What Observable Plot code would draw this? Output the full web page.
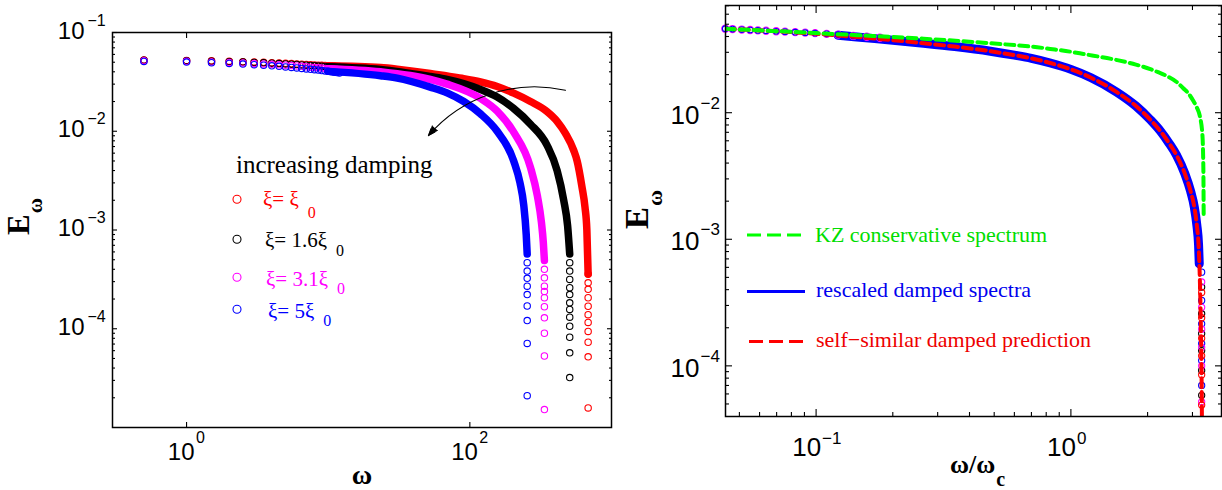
<!DOCTYPE html>
<html>
<head>
<meta charset="utf-8">
<script src="https://cdn.jsdelivr.net/npm/d3@7"></script>
<script src="https://cdn.jsdelivr.net/npm/@observablehq/plot@0.6"></script>
<style>
html,body{margin:0;padding:0;background:#fff;}
body{width:1222px;height:490px;position:relative;overflow:hidden;}
#left,#right{position:absolute;top:0;}
#left{left:0;} #right{left:620px;}
svg{overflow:visible;}
</style>
</head>
<body>
<div id="left"></div><div id="right"></div>
<script>
// ================= LEFT PANEL DATA (E_omega vs omega) =================
const seriesNames  = ["ξ0", "1.6ξ0", "3.1ξ0", "5ξ0"];
const seriesColors = ["#ff0000", "#000000", "#ff00ff", "#0000ff"];

// isolated circles at small omega (step 0.5)
const lowOmega = [0.5,1,1.5,2,2.5,3,3.5,4,4.5,5,5.5,6,6.5,7,7.5,8,8.5,9,9.5,10,10.5,11,11.5,12];
const lowE_red     = [0.0527,0.0522,0.0517,0.0512,0.0507,0.0503,0.0499,0.0495,0.0491,0.0487,0.0484,0.0481,0.0478,0.0475,0.0472,0.0470,0.0467,0.0465,0.0463,0.0461,0.0459,0.0457,0.0455,0.0453];
const lowE_black   = [0.0524,0.0518,0.0512,0.0507,0.0502,0.0497,0.0493,0.0489,0.0485,0.0481,0.0477,0.0474,0.0470,0.0467,0.0464,0.0461,0.0458,0.0455,0.0453,0.0450,0.0448,0.0445,0.0443,0.0441];
const lowE_magenta = [0.0518,0.0511,0.0504,0.0498,0.0492,0.0486,0.0481,0.0476,0.0471,0.0466,0.0462,0.0458,0.0454,0.0450,0.0446,0.0442,0.0439,0.0436,0.0433,0.0430,0.0427,0.0424,0.0421,0.0418];
const lowE_blue    = [0.0510,0.0502,0.0494,0.0486,0.0479,0.0472,0.0466,0.0460,0.0454,0.0448,0.0443,0.0438,0.0433,0.0428,0.0424,0.0420,0.0416,0.0412,0.0408,0.0404,0.0400,0.0396,0.0393,0.0390];

// dense part of each spectrum (circles merge into a band)
const bandOmega_red = [10,23.4,30.7,52.5,69,90.6,119,156,204,268,351,413,473,541,572,617,650,670,684];
const bandE_red     = [0.0461,0.0441,0.0425,0.0385,0.0362,0.0341,0.0316,0.0284,0.0243,0.0200,0.0158,0.0126,0.0095,0.0064,0.0050,0.0028,0.0017,0.0010,0.00036];
const bandOmega_black = [10,23.4,52.5,69,119,156,204,268,351,413,460,490,507];
const bandE_black     = [0.0450,0.0422,0.0358,0.0335,0.0265,0.0222,0.0170,0.0118,0.0072,0.0040,0.0020,0.0011,0.00057];
const bandOmega_magenta = [10,23.4,52.5,69,119,156,204,268,300,320,330,336];
const bandE_magenta     = [0.0430,0.0400,0.0335,0.0300,0.0215,0.0160,0.0098,0.0043,0.0022,0.0012,0.00075,0.00049];
const bandOmega_blue = [10,23.4,30.7,52.5,69,90.6,119,156,204,226,240,250,254];
const bandE_blue     = [0.0404,0.0365,0.0345,0.0280,0.0245,0.0200,0.0150,0.0100,0.0050,0.0030,0.0018,0.0009,0.00057];

// cut-off columns of circles
const tailOmega = [684, 507, 336, 254];
const tailE_red     = [3.56e-4,2.92e-4,2.51e-4,2.06e-4,1.69e-4,1.39e-4,1.16e-4,9.4e-5,7.3e-5,5.2e-5,1.58e-5];
const tailE_black   = [4.67e-4,3.84e-4,3.16e-4,2.6e-4,2.22e-4,1.83e-4,1.57e-4,1.31e-4,1.06e-4,8.2e-5,5.7e-5,3.2e-5];
const tailE_magenta = [4.0e-4,3.28e-4,2.7e-4,2.38e-4,2.06e-4,1.67e-4,1.29e-4,9.0e-5,5.3e-5,1.52e-5];
const tailE_blue    = [4.67e-4,3.84e-4,3.24e-4,2.7e-4,2.22e-4,1.70e-4,1.21e-4,7.1e-5,2.1e-5];

// "increasing damping" arrow (data units)
const arrowFrom = [473, 0.026];
const arrowTo   = [51, 0.00904];

// left axes
const leftXDomain = [0.3, 1000];
const leftYDomain = [1e-5, 0.1];
const leftXTicks = [1, 100];
const leftXTickExp = ["0", "2"];
const leftYTicks = [0.1, 0.01, 0.001, 0.0001];
const leftYTickExp = ["−1", "−2", "−3", "−4"];
const leftYMinor = [2e-5,3e-5,4e-5,5e-5,6e-5,7e-5,8e-5,9e-5,2e-4,3e-4,4e-4,5e-4,6e-4,7e-4,8e-4,9e-4,2e-3,3e-3,4e-3,5e-3,6e-3,7e-3,8e-3,9e-3,2e-2,3e-2,4e-2,5e-2,6e-2,7e-2,8e-2,9e-2];

// ================= RIGHT PANEL DATA (E_omega vs omega/omega_c) =================
const kzX = [0.0442,0.1,0.1445,0.264,0.483,0.6,0.7,0.83,1.0,1.12,1.51,1.8,2.05,2.2,2.38,2.6,2.76,2.9,3.03,3.12,3.21,3.28,3.31,3.32];
const kzE = [0.0460,0.0426,0.0410,0.0384,0.0354,0.0342,0.0333,0.0319,0.0303,0.0291,0.0261,0.0240,0.0221,0.0209,0.0195,0.0175,0.0156,0.0141,0.0123,0.0110,0.0093,0.0068,0.0037,0.0015];

const selfX = [0.0442,0.06,0.08,0.1,0.1445,0.2,0.264,0.35,0.483,0.6,0.7,0.83,1.0,1.2,1.51,1.8,2.05,2.24,2.42,2.6,2.8,2.95,3.05,3.12,3.17,3.21,3.24,3.26,3.275];
const selfE = [0.0461,0.0447,0.0433,0.0420,0.0396,0.0374,0.0354,0.0333,0.0306,0.0285,0.0269,0.0247,0.0220,0.0189,0.0146,0.0113,0.0088,0.0072,0.0058,0.0046,0.0033,0.0024,0.0018,0.0013,0.0009,0.00045,0.00018,0.00007,0.00002];

const rescaledX = [0.122,0.1445,0.2,0.264,0.35,0.483,0.6,0.7,0.83,1.0,1.2,1.51,1.8,2.05,2.24,2.42,2.6,2.8,2.95,3.05,3.12,3.17,3.19];
const rescaledE = [0.0409,0.0396,0.0374,0.0354,0.0333,0.0306,0.0285,0.0269,0.0247,0.0220,0.0189,0.0146,0.0113,0.0088,0.0072,0.0058,0.0046,0.0033,0.0024,0.0018,0.0013,0.0009,0.00064];

const rescaledLowX = [0.0440,0.0470,0.0511,0.0551,0.0591,0.0636,0.0697,0.0755,0.0828,0.0906,0.0991,0.110,0.122,0.140,0.158,0.178];
const rescaledLowE = [0.0461,0.0458,0.0454,0.0450,0.0447,0.0444,0.0440,0.0437,0.0433,0.0429,0.0425,0.0420,0.0414,0.0404,0.0398,0.0391];

const rescaledTailX = 3.26;
const rTailE_blue    = [5.5e-4,3.29e-4,2.15e-4,1.5e-4,1.1e-4,7.0e-5];
const rTailE_black   = [4.19e-4,2.58e-4,1.8e-4,1.32e-4,9.2e-5,5.85e-5];
const rTailE_magenta = [4.6e-4,2.9e-4,1.95e-4,1.4e-4,1.0e-4,5.2e-5];
const rTailE_red     = [3.8e-4,2.4e-4,1.65e-4,1.2e-4,8.5e-5,4.9e-5];

const rightXDomain = [0.0441, 3.9];
const rightYDomain = [3.98e-5, 0.0703];
const rightXTicks = [0.1, 1];
const rightXTickExp = ["−1", "0"];
const rightXMinor = [0.05,0.06,0.07,0.08,0.09,0.2,0.3,0.4,0.5,0.6,0.7,0.8,0.9,2,3];
const rightYTicks = [0.01, 0.001, 0.0001];
const rightYTickExp = ["−2", "−3", "−4"];
const rightYMinor = [5e-5,6e-5,7e-5,8e-5,9e-5,2e-4,3e-4,4e-4,5e-4,6e-4,7e-4,8e-4,9e-4,2e-3,3e-3,4e-3,5e-3,6e-3,7e-3,8e-3,9e-3,2e-2,3e-2,4e-2,5e-2,6e-2,7e-2];

const legendRight = ["KZ conservative spectrum", "rescaled damped spectra", "self−similar damped prediction"];

// ================= helpers =================
const SANS = "'Liberation Sans', Arial, Helvetica, sans-serif";
const SERIF = "'Liberation Serif', 'Times New Roman', Times, serif";
const pts = (xs, ys) => xs.map((x, i) => ({x, y: ys[i]}));
const col = (x, ys) => ys.map(y => ({x, y}));

function tickMarks(xMaj, xMin, yMaj, yMin, maj, mnr) {
  const m = [];
  const ax = (d, s, anchor) => Plot.axisX(d, {anchor, tickSize: s, dy: anchor === "bottom" ? -s : s, fill: "none", label: null, strokeWidth: 1.1});
  const ay = (d, s, anchor) => Plot.axisY(d, {anchor, tickSize: s, dx: anchor === "left" ? s : -s, fill: "none", label: null, strokeWidth: 1.1});
  for (const a of ["bottom", "top"]) { m.push(ax(xMaj, maj, a)); if (xMin.length) m.push(ax(xMin, mnr, a)); }
  for (const a of ["left", "right"]) { m.push(ay(yMaj, maj, a)); if (yMin.length) m.push(ay(yMin, mnr, a)); }
  return m;
}
function xLabels(vals, exps, o) {
  const d = vals.map((v, i) => ({v, e: exps[i]}));
  return [
    Plot.text(d, {x: "v", frameAnchor: "bottom", text: () => "10", textAnchor: "end", lineAnchor: "bottom", dx: o.bdx, dy: o.bdy, fontSize: o.bs, fontFamily: SANS}),
    Plot.text(d, {x: "v", frameAnchor: "bottom", text: "e", textAnchor: "start", lineAnchor: "bottom", dx: o.edx, dy: o.edy, fontSize: o.es, fontFamily: SANS})
  ];
}
function yLabels(vals, exps, o) {
  const d = vals.map((v, i) => ({v, e: exps[i]}));
  return [
    Plot.text(d, {y: "v", frameAnchor: "left", text: () => "10", textAnchor: "end", lineAnchor: "bottom", dx: o.bdx, dy: o.bdy, fontSize: o.bs, fontFamily: SANS}),
    Plot.text(d, {y: "v", frameAnchor: "left", text: "e", textAnchor: "start", lineAnchor: "bottom", dx: o.edx, dy: o.edy, fontSize: o.es, fontFamily: SANS})
  ];
}
function addText(svg, x, y, o, runs) {
  const t = d3.select(svg).append("text")
    .attr("transform", `translate(${x},${y})` + (o.rotate ? ` rotate(${o.rotate})` : ""))
    .attr("font-family", o.family || SERIF).attr("font-size", o.size)
    .attr("font-weight", o.weight || "normal").attr("fill", o.color || "#000")
    .attr("text-anchor", o.anchor || "start");
  for (const r of runs) {
    const s = t.append("tspan").text(r.t);
    if (r.dx != null) s.attr("dx", r.dx);
    if (r.dy != null) s.attr("dy", r.dy);
    if (r.size) s.attr("font-size", r.size);
    if (r.weight) s.attr("font-weight", r.weight);
  }
}

// ================= LEFT PLOT =================
const leftSeries = [
  {c: seriesColors[0], lowE: lowE_red, bx: bandOmega_red, by: bandE_red, tx: tailOmega[0], ty: tailE_red},
  {c: seriesColors[1], lowE: lowE_black, bx: bandOmega_black, by: bandE_black, tx: tailOmega[1], ty: tailE_black},
  {c: seriesColors[2], lowE: lowE_magenta, bx: bandOmega_magenta, by: bandE_magenta, tx: tailOmega[2], ty: tailE_magenta},
  {c: seriesColors[3], lowE: lowE_blue, bx: bandOmega_blue, by: bandE_blue, tx: tailOmega[3], ty: tailE_blue}
];
const leftData = [];
for (const s of leftSeries) {
  leftData.push(Plot.line(pts(s.bx, s.by), {x: "x", y: "y", stroke: s.c, strokeWidth: 7.5, strokeLinecap: "round", curve: "monotone-x"}));
  leftData.push(Plot.dot(pts(lowOmega, s.lowE), {x: "x", y: "y", r: 3.2, stroke: s.c, strokeWidth: 1.1}));
  leftData.push(Plot.dot(col(s.tx, s.ty), {x: "x", y: "y", r: 3.2, stroke: s.c, strokeWidth: 1.1}));
}

const left = Plot.plot({
  width: 620, height: 490,
  marginLeft: 112, marginRight: 9, marginTop: 32, marginBottom: 63,
  x: {type: "log", domain: leftXDomain},
  y: {type: "log", domain: leftYDomain},
  style: {background: "white", overflow: "visible"},
  marks: [
    ...leftData,
    Plot.arrow([{x1: arrowFrom[0], y1: arrowFrom[1], x2: arrowTo[0], y2: arrowTo[1]}],
      {x1: "x1", y1: "y1", x2: "x2", y2: "y2", bend: -31, stroke: "#000", strokeWidth: 1.1, headLength: 10, headAngle: 40}),
    Plot.vector([{x: arrowTo[0], y: arrowTo[1]}],
      {x: "x", y: "y", rotate: 221, length: 10, shape: "spike", anchor: "end", r: 3.6, fill: "#000", stroke: "#000", strokeWidth: 0.6}),
    Plot.frame({stroke: "#000", strokeWidth: 1.5}),
    ...tickMarks(leftXTicks, [], leftYTicks, leftYMinor, 5, 3),
    ...xLabels(leftXTicks, leftXTickExp, {bdx: 8, bdy: 32, bs: 24, edx: 9.5, edy: 15, es: 16}),
    ...yLabels(leftYTicks, leftYTickExp, {bdx: -28, bdy: 6, bs: 24, edx: -25, edy: -7, es: 16})
  ]
});
document.getElementById("left").appendChild(left);

// axis titles + legend (left)
addText(left, 29, 235, {size: 31, weight: "bold", rotate: -90}, [{t: "E"}, {t: "ω", dy: 13, dx: 1, size: 21}]);
addText(left, 362, 484, {size: 28, weight: "bold", anchor: "middle"}, [{t: "ω"}]);
addText(left, 236, 173, {size: 25}, [{t: "increasing damping"}]);
const legRows = [
  {cy: 199.3, tx: 263, base: 205.5, main: "ξ= ξ", sdy: 12.5},
  {cy: 239.3, tx: 265, base: 247, main: "ξ= 1.6ξ", sdy: 8.7},
  {cy: 277.3, tx: 266, base: 285.5, main: "ξ= 3.1ξ", sdy: 8.2},
  {cy: 309.3, tx: 268, base: 317.5, main: "ξ= 5ξ", sdy: 8.5}
];
legRows.forEach((r, i) => {
  d3.select(left).append("circle").attr("cx", 237).attr("cy", r.cy).attr("r", 4)
    .attr("fill", "none").attr("stroke", seriesColors[i]).attr("stroke-width", 1.1);
  addText(left, r.tx, r.base, {size: 21, color: seriesColors[i]}, [{t: r.main}, {t: "0", dx: 9, dy: r.sdy, size: 16}]);
});

// ================= RIGHT PLOT =================
const right = Plot.plot({
  width: 602, height: 490,
  marginLeft: 105, marginRight: 1, marginTop: 5, marginBottom: 74,
  x: {type: "log", domain: rightXDomain},
  y: {type: "log", domain: rightYDomain},
  style: {background: "transparent", overflow: "visible"},
  marks: [
    Plot.line(pts(rescaledX, rescaledE), {x: "x", y: "y", stroke: "#0000ff", strokeWidth: 9, strokeLinecap: "round", curve: "monotone-x"}),
    Plot.dot(pts(rescaledLowX, rescaledLowE), {x: "x", y: "y", r: 3.6, stroke: "#ff00ff", strokeWidth: 1.1}),
    Plot.dot(pts(rescaledLowX, rescaledLowE), {x: "x", y: "y", r: 2.8, stroke: "#0000ff", strokeWidth: 1.1}),
    Plot.dot(col(rescaledTailX, rTailE_blue), {x: "x", y: "y", r: 3.1, stroke: "#0000ff", strokeWidth: 1.1}),
    Plot.dot(col(rescaledTailX, rTailE_black), {x: "x", y: "y", r: 3.1, stroke: "#000000", strokeWidth: 1.1}),
    Plot.dot(col(rescaledTailX, rTailE_magenta), {x: "x", y: "y", r: 3.1, stroke: "#ff00ff", strokeWidth: 1.1}),
    Plot.dot(col(rescaledTailX, rTailE_red), {x: "x", y: "y", r: 3.1, stroke: "#ff0000", strokeWidth: 1.1}),
    Plot.line(pts(selfX, selfE), {x: "x", y: "y", stroke: "#ff0000", strokeWidth: 4, strokeDasharray: "9,5", curve: "monotone-x", clip: true}),
    Plot.line(pts(kzX, kzE), {x: "x", y: "y", stroke: "#00ff00", strokeWidth: 4, strokeDasharray: "9,5", curve: "monotone-x", clip: true}),
    Plot.frame({stroke: "#000", strokeWidth: 1.5}),
    ...tickMarks(rightXTicks, rightXMinor, rightYTicks, rightYMinor, 7, 4),
    ...xLabels(rightXTicks, rightXTickExp, {bdx: 5, bdy: 39, bs: 26, edx: 6, edy: 27, es: 17}),
    ...yLabels(rightYTicks, rightYTickExp, {bdx: -26, bdy: 11, bs: 26, edx: -25, edy: -4, es: 17})
  ]
});
document.getElementById("right").appendChild(right);

// axis titles (right)
addText(right, 28, 229, {size: 33, weight: "bold", rotate: -90}, [{t: "E"}, {t: "ω", dy: 14, dx: 1, size: 22}]);
addText(right, 330, 473, {size: 26, weight: "bold"}, [{t: "ω/ω"}, {t: "c", dy: 13, dx: 1, size: 20}]);

// legend (right)
const rl = d3.select(right);
rl.append("line").attr("x1", 127).attr("x2", 181).attr("y1", 235).attr("y2", 235)
  .attr("stroke", "#00ff00").attr("stroke-width", 3).attr("stroke-dasharray", "14,6");
rl.append("line").attr("x1", 127).attr("x2", 185).attr("y1", 291.5).attr("y2", 291.5)
  .attr("stroke", "#0000ff").attr("stroke-width", 3);
rl.append("line").attr("x1", 129).attr("x2", 185).attr("y1", 341.5).attr("y2", 341.5)
  .attr("stroke", "#ff0000").attr("stroke-width", 3).attr("stroke-dasharray", "14,6");
addText(right, 195, 242, {size: 22, color: "#00dd00"}, [{t: legendRight[0]}]);
addText(right, 196, 296.5, {size: 22, color: "#0000ee"}, [{t: legendRight[1]}]);
addText(right, 196, 347, {size: 22, color: "#ee0000"}, [{t: legendRight[2]}]);
</script>
</body>
</html>
